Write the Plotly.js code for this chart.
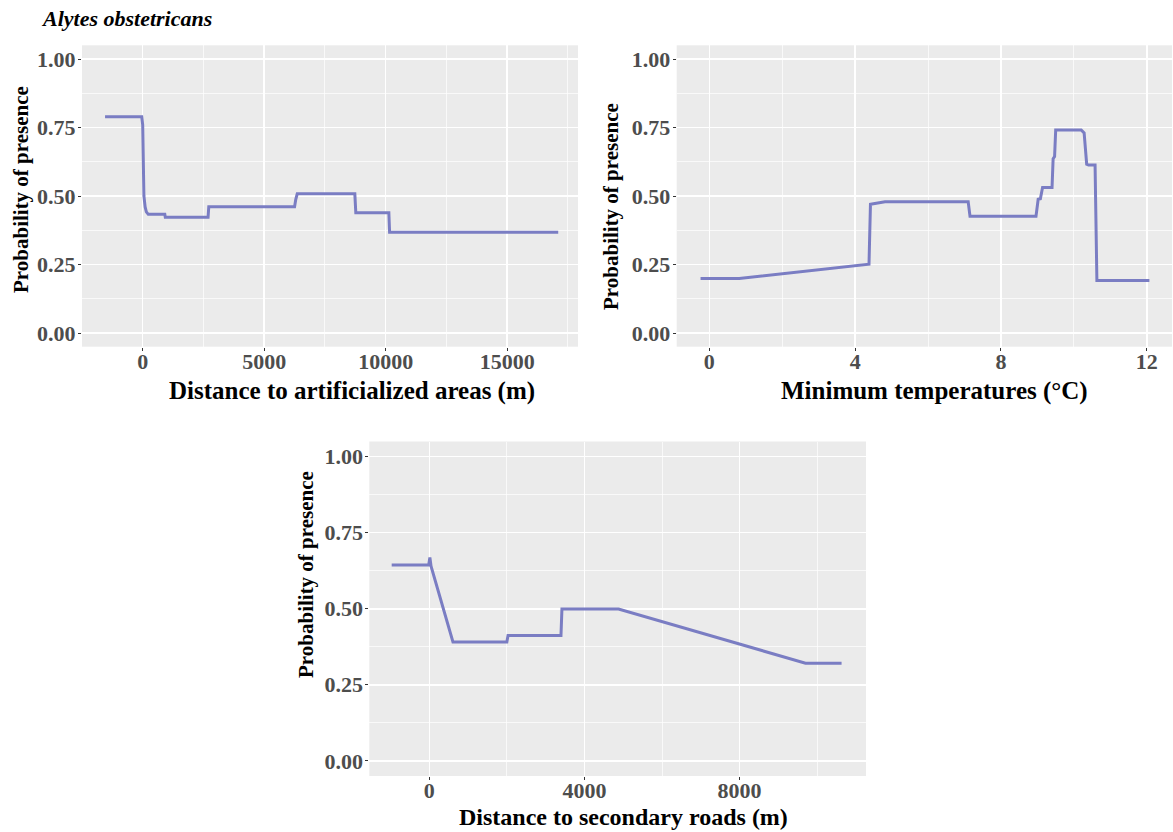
<!DOCTYPE html>
<html>
<head>
<meta charset="utf-8">
<script src="https://cdn.plot.ly/plotly-3.0.1.min.js"></script>
<style>html,body{margin:0;padding:0;background:#fff;}#chart{width:1173px;height:832px;}</style>
</head>
<body>
<div id="chart"></div>
<script>
// ---- data ----
const distArtX = [-1550, -40, 0, 50, 100, 150, 230, 910, 930, 2690, 2720, 6250, 6300, 6360, 8730, 8770, 10130, 10160, 17100];
const distArtY = [0.789, 0.789, 0.760, 0.500, 0.460, 0.442, 0.433, 0.433, 0.422, 0.422, 0.461, 0.461, 0.488, 0.508, 0.508, 0.439, 0.439, 0.368, 0.368];

const tminX = [-0.24, 0.82, 4.38, 4.42, 4.50, 4.82, 7.10, 7.15, 8.96, 9.02, 9.08, 9.14, 9.40, 9.43, 9.47, 9.50, 10.20, 10.28, 10.35, 10.40, 10.58, 10.63, 12.07];
const tminY = [0.199, 0.199, 0.251, 0.470, 0.472, 0.479, 0.479, 0.426, 0.426, 0.488, 0.490, 0.531, 0.531, 0.636, 0.644, 0.741, 0.741, 0.730, 0.616, 0.613, 0.613, 0.192, 0.192];

const roadX = [-970, -15, 15, 45, 610, 2000, 2030, 3395, 3420, 4880, 9700, 10630];
const roadY = [0.644, 0.644, 0.669, 0.640, 0.391, 0.391, 0.412, 0.412, 0.499, 0.499, 0.321, 0.321];

const yTickVals = [0, 0.25, 0.5, 0.75, 1];
const yTickText = ["0.00", "0.25", "0.50", "0.75", "1.00"];
const x1TickVals = [0, 5000, 10000, 15000];
const x2TickVals = [0, 4, 8, 12];
const x3TickVals = [0, 4000, 8000];

const titleText = "Alytes obstetricans";
const yTitle = "Probability of presence";
const x1Title = "Distance to artificialized areas (m)";
const x2Title = "Minimum temperatures (°C)";
const x3Title = "Distance to secondary roads (m)";

// ---- layout helpers ----
const W = 1173, H = 832;
const px = v => v / W;
const py = v => 1 - v / H;
const lineColor = '#7A7DC3';
const serif = 'Liberation Serif, Times New Roman, serif';

function xAxis(dom, range, tv, minorD, anchor) {
  return {
    domain: [px(dom[0]), px(dom[1])], range: range, anchor: anchor,
    tickvals: tv, ticktext: tv.map(String),
    showgrid: true, gridcolor: '#FFFFFF', gridwidth: 1.5, zeroline: false,
    showline: false, ticks: 'outside', ticklen: 3, tickwidth: 1, tickcolor: '#333333',
    ticklabelstandoff: -8,
    tickfont: {family: serif, size: 22, color: '#4D4D4D', weight: 'bold'},
    minor: {dtick: minorD, tick0: minorD, showgrid: true, gridcolor: '#FFFFFF', gridwidth: 0.7, ticks: ''},
    fixedrange: true
  };
}
function yAxis(dom, anchor) {
  return {
    domain: [py(dom[1]), py(dom[0])], range: [-0.05, 1.05], anchor: anchor,
    tickvals: yTickVals, ticktext: yTickText,
    showgrid: true, gridcolor: '#FFFFFF', gridwidth: 1.5, zeroline: false,
    showline: false, ticks: 'outside', ticklen: 3, tickwidth: 1, tickcolor: '#333333',
    ticklabelstandoff: -2,
    tickfont: {family: serif, size: 22, color: '#4D4D4D', weight: 'bold'},
    minor: {dtick: 0.25, tick0: 0.125, showgrid: true, gridcolor: '#FFFFFF', gridwidth: 0.7, ticks: ''},
    fixedrange: true
  };
}

const traces = [
  {x: distArtX, y: distArtY, xaxis: 'x', yaxis: 'y', mode: 'lines', line: {color: lineColor, width: 3}, hoverinfo: 'skip'},
  {x: tminX, y: tminY, xaxis: 'x2', yaxis: 'y2', mode: 'lines', line: {color: lineColor, width: 3}, hoverinfo: 'skip'},
  {x: roadX, y: roadY, xaxis: 'x3', yaxis: 'y3', mode: 'lines', line: {color: lineColor, width: 3}, hoverinfo: 'skip'}
];

function ann(text, x, y, size, opts) {
  return Object.assign({
    text: text, x: px(x), y: py(y), xref: 'paper', yref: 'paper',
    showarrow: false, xanchor: 'center', yanchor: 'middle',
    font: {family: serif, size: size, color: '#000000', weight: 'bold'}
  }, opts || {});
}

const layout = {
  width: W, height: H,
  margin: {l: 0, r: 0, t: 0, b: 0, pad: 0},
  paper_bgcolor: '#FFFFFF', plot_bgcolor: '#EBEBEB',
  showlegend: false,
  xaxis: xAxis([82, 578], [-2498, 17914], x1TickVals, 2500, 'y'),
  yaxis: yAxis([45.3, 346.7], 'x'),
  xaxis2: xAxis([676.7, 1172], [-0.894, 12.69], x2TickVals, 2, 'y2'),
  yaxis2: yAxis([45.3, 346.7], 'x2'),
  xaxis3: xAxis([369.3, 866], [-1547, 11260], x3TickVals, 2000, 'y3'),
  yaxis3: yAxis([441.5, 776], 'x3'),
  annotations: [
    ann(titleText, 39, 19, 22, {xanchor: 'left', font: {family: serif, size: 22, color: '#000000', weight: 'bold', style: 'italic'}}),
    ann(x1Title, 352, 391, 25),
    ann(x2Title, 934, 391, 25),
    ann(x3Title, 623, 817, 24),
    ann(yTitle, 21, 190, 21, {textangle: -90}),
    ann(yTitle, 611, 207, 21, {textangle: -90}),
    ann(yTitle, 306, 575, 21, {textangle: -90})
  ]
};

Plotly.newPlot('chart', traces, layout, {staticPlot: true, displayModeBar: false});
</script>
</body>
</html>
